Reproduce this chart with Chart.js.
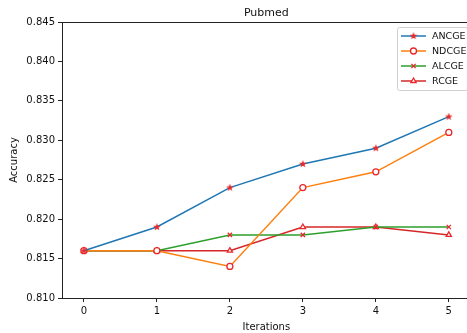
<!DOCTYPE html>
<html>
<head>
<meta charset="utf-8">
<script src="https://cdn.jsdelivr.net/npm/chart.js@4.4.0/dist/chart.umd.min.js"></script>
<style>
  html, body { margin: 0; padding: 0; background: #fff; overflow: hidden; }
  #wrap { width: 476px; height: 333px; }
</style>
</head>
<body>
<div id="wrap"><canvas id="myChart" width="476" height="333"></canvas></div>
<script>
// Data
const iterations = [0, 1, 2, 3, 4, 5];
const ancge = [0.816, 0.819, 0.824, 0.827, 0.829, 0.833];
const ndcge = [0.816, 0.816, 0.814, 0.824, 0.826, 0.831];
const alcge = [0.816, 0.816, 0.818, 0.818, 0.819, 0.819];
const rcge = [0.816, 0.816, 0.816, 0.819, 0.819, 0.818];
const yTicks = [0.810, 0.815, 0.820, 0.825, 0.830, 0.835, 0.840, 0.845];

const FONT = "DejaVu Sans";
const markerRed = "#e8282b";

// filled star marker (matplotlib "*")
function makeStar(size) {
  const c = document.createElement("canvas");
  c.width = size; c.height = size;
  const g = c.getContext("2d");
  const cx = size / 2, cy = size / 2, R = size / 2, r = R * 0.42;
  g.beginPath();
  for (let i = 0; i < 10; i++) {
    const rad = i % 2 === 0 ? R : r;
    const a = -Math.PI / 2 + i * Math.PI / 5;
    g.lineTo(cx + rad * Math.cos(a), cy + rad * Math.sin(a));
  }
  g.closePath();
  g.fillStyle = markerRed;
  g.fill();
  return c;
}
const star = makeStar(8);

function toPoints(arr) {
  return arr.map((v, i) => ({ x: iterations[i], y: v }));
}

const series = [
  { label: "ANCGE", data: ancge, color: "#1f77b4", style: star, radius: 4, bg: markerRed },
  { label: "NDCGE", data: ndcge, color: "#ff7f0e", style: "circle", radius: 3, bg: "#fff" },
  { label: "ALCGE", data: alcge, color: "#2ca02c", style: "crossRot", radius: 3, bg: markerRed },
  { label: "RCGE", data: rcge, color: "#d62728", style: "triangle", radius: 3, bg: "#fff" },
];

// Title, frame and legend drawn to look like matplotlib
const decor = {
  id: "decor",
  afterDraw(chart) {
    const { ctx, chartArea: a } = chart;
    ctx.save();
    ctx.strokeStyle = "#222";
    ctx.lineWidth = 1;
    ctx.strokeRect(Math.round(a.left) + 0.5, Math.round(a.top) + 0.5,
      Math.round(a.right - a.left), Math.round(a.bottom - a.top));

    ctx.fillStyle = "#111";
    ctx.font = "11px " + FONT;
    ctx.textAlign = "center";
    ctx.textBaseline = "alphabetic";
    ctx.fillText("Pubmed", (a.left + a.right) / 2, 16);

    // legend box
    const bx = 397.5, by = 27.5, bw = 70, bh = 63;
    ctx.fillStyle = "rgba(255,255,255,0.85)";
    ctx.strokeStyle = "#d0d0d0";
    ctx.lineWidth = 1;
    ctx.beginPath();
    ctx.roundRect(bx, by, bw, bh, 2);
    ctx.fill();
    ctx.stroke();
    ctx.font = "9.5px " + FONT;
    ctx.textAlign = "left";
    ctx.textBaseline = "middle";
    chart.data.datasets.forEach((ds, i) => {
      const y = 36 + i * 15;
      ctx.strokeStyle = ds.borderColor;
      ctx.lineWidth = 1.5;
      ctx.beginPath();
      ctx.moveTo(401, y);
      ctx.lineTo(426, y);
      ctx.stroke();
      ctx.fillStyle = ds.pointBackgroundColor;
      ctx.strokeStyle = ds.pointBorderColor;
      ctx.lineWidth = 1.3;
      Chart.helpers.drawPoint(ctx, {
        pointStyle: ds.pointStyle,
        radius: ds.pointRadius,
        borderWidth: 1.3,
      }, 413.5, y);
      ctx.fillStyle = "#111";
      ctx.fillText(ds.label, 432, y + 0.5);
    });
    ctx.restore();
  },
};

const ctxEl = document.getElementById("myChart");
const chart = new Chart(ctxEl, {
  type: "line",
  data: {
    datasets: series.map((s) => ({
      label: s.label,
      data: toPoints(s.data),
      borderColor: s.color,
      borderWidth: 1.5,
      pointStyle: s.style,
      pointRadius: s.radius,
      pointBorderColor: markerRed,
      pointBackgroundColor: s.bg,
      pointBorderWidth: 1.3,
      tension: 0,
    })),
  },
  options: {
    responsive: false,
    animation: false,
    layout: { padding: { top: 22, right: 3, left: 8, bottom: 0 } },
    plugins: { legend: { display: false }, title: { display: false }, tooltip: { enabled: false } },
    scales: {
      x: {
        type: "linear",
        min: -0.3,
        max: 5.3,
        afterBuildTicks: (scale) => { scale.ticks = iterations.map((v) => ({ value: v })); },
        afterFit: (scale) => { scale.height = 35; },
        grid: { drawOnChartArea: false, color: "#222", tickLength: 4, tickColor: "#222" },
        border: { display: false },
        ticks: { color: "#111", font: { family: FONT, size: 10 }, padding: 3, callback: (v) => String(v) },
        title: { display: true, text: "Iterations", color: "#111", font: { family: FONT, size: 10 }, padding: { top: 0, bottom: 0 } },
      },
      y: {
        min: 0.810,
        max: 0.845,
        afterBuildTicks: (scale) => { scale.ticks = yTicks.map((v) => ({ value: v })); },
        afterFit: (scale) => { scale.width = 54; },
        grid: { drawOnChartArea: false, color: "#222", tickLength: 4, tickColor: "#222" },
        border: { display: false },
        ticks: { color: "#111", font: { family: FONT, size: 10 }, padding: 3, callback: (v) => v.toFixed(3) },
        title: { display: true, text: "Accuracy", color: "#111", font: { family: FONT, size: 10 }, padding: { top: 0, bottom: 4 } },
      },
    },
  },
  plugins: [decor],
});
</script>
</body>
</html>
